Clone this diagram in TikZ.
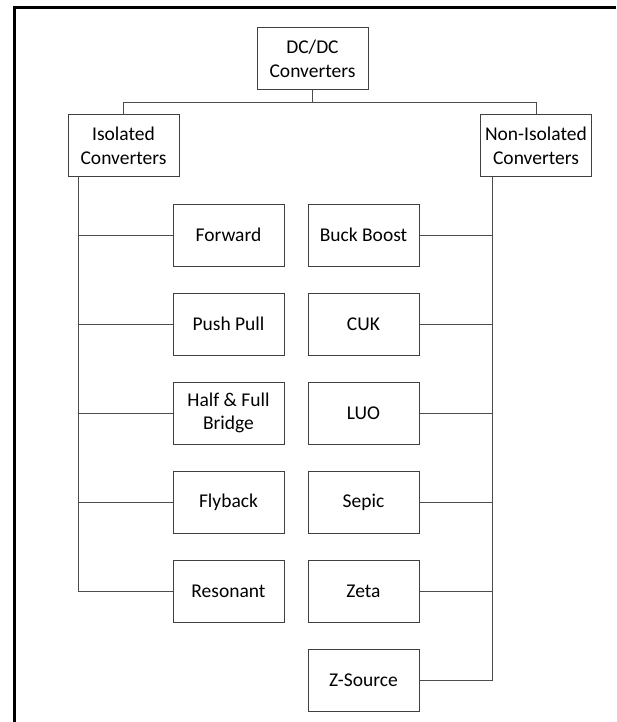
\documentclass[tikz,border=0pt]{standalone}
\usepackage{fontspec}
\setmainfont{Carlito}
\usetikzlibrary{positioning}

\tikzset{
  blk/.style={draw=black!75, line width=1pt, minimum width=111pt, minimum height=62pt,
    inner sep=2pt, align=center, font=\fontsize{19.5}{23.5}\selectfont},
  wire/.style={draw=black!70, line width=1pt},
}

\begin{document}
\begin{tikzpicture}[x=1pt,y=-1pt]
\useasboundingbox (0,0) rectangle (616,722);
\draw[line width=3pt] (14,722) -- (14,8) -- (616,8);

\node[blk] (dcdc) at (312.5,59) {DC/DC\\Converters};
\node[blk] (iso) at (123.5,146) {Isolated\\Converters};
\node[blk] (noniso) at (536,146) {Non-Isolated\\Converters};

% isolated branch
\node[blk] (fwd) at (228.5,235) {Forward};
\node[blk, below=26pt of fwd] (pp) {Push Pull};
\node[blk, below=26pt of pp] (hfb) {Half \& Full\\Bridge};
\node[blk, below=26pt of hfb] (fly) {Flyback};
\node[blk, below=26pt of fly] (res) {Resonant};

% non-isolated branch
\node[blk, right=23pt of fwd] (bb) {Buck Boost};
\node[blk, below=26pt of bb] (cuk) {CUK};
\node[blk, below=26pt of cuk] (luo) {LUO};
\node[blk, below=26pt of luo] (sep) {Sepic};
\node[blk, below=26pt of sep] (zeta) {Zeta};
\node[blk, below=26pt of zeta] (zsrc) {Z-Source};

\draw[wire] (dcdc.south) -- ++(0,12) coordinate (bus) -| (iso.north);
\draw[wire] (bus) -| (noniso.north);

\coordinate (lbus) at ([xshift=-45pt]iso.south);
\coordinate (rbus) at ([xshift=-44pt]noniso.south);
\foreach \n in {fwd,pp,hfb,fly,res}
  \draw[wire] (lbus) |- (\n.west);
\foreach \n in {bb,cuk,luo,sep,zeta,zsrc}
  \draw[wire] (rbus) |- (\n.east);
\end{tikzpicture}
\end{document}
